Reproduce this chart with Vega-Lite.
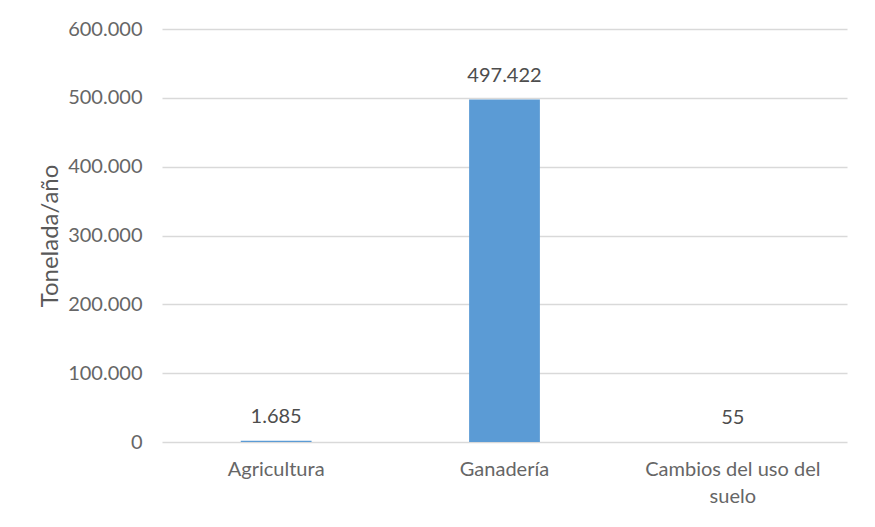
{
  "$schema": "https://vega.github.io/schema/vega-lite/v6.json",
  "width": 685,
  "height": 413,
  "padding": {"left": 38, "top": 19, "right": 27, "bottom": 5},
  "background": "white",
  "config": {
    "locale": {"number": {"decimal": ",", "thousands": ".", "grouping": [3], "currency": ["", " €"]}},
    "view": {"stroke": null},
    "font": "Lato"
  },
  "data": {
    "values": [
      {"categoria": "Agricultura", "valor": 1685},
      {"categoria": "Ganadería", "valor": 497422},
      {"categoria": "Cambios del uso del suelo", "valor": 55}
    ]
  },
  "encoding": {
    "x": {
      "field": "categoria", "type": "nominal", "sort": null,
      "scale": {"paddingInner": 0.69, "paddingOuter": 0.345},
      "axis": {
        "title": null, "labelAngle": 0, "domain": false, "ticks": false,
        "labelFont": "Lato", "labelFontSize": 20, "labelColor": "#666666",
        "labelPadding": 17, "labelLineHeight": 27, "labelLimit": 0,
        "labelExpr": "datum.value == 'Cambios del uso del suelo' ? ['Cambios del uso del', 'suelo'] : datum.value"
      }
    },
    "y": {
      "field": "valor", "type": "quantitative",
      "scale": {"domain": [0, 600000], "nice": false},
      "axis": {
        "title": "Tonelada/año", "titleFont": "Lato", "titleFontSize": 24, "titleFontWeight": "normal", "titleColor": "#595959",
        "titlePadding": 5,
        "values": [0, 100000, 200000, 300000, 400000, 500000, 600000],
        "format": ",d", "domain": false, "ticks": false,
        "labelFont": "Lato", "labelFontSize": 20, "labelColor": "#666666", "labelPadding": 20,
        "gridColor": "#d9d9d9", "gridWidth": 1.5
      }
    }
  },
  "layer": [
    {"mark": {"type": "bar", "color": "#5b9bd5"}},
    {
      "mark": {"type": "text", "dy": -24, "font": "Lato", "fontSize": 20, "color": "#4d4d4d"},
      "encoding": {"text": {"field": "valor", "type": "quantitative", "format": ",d"}}
    }
  ]
}
